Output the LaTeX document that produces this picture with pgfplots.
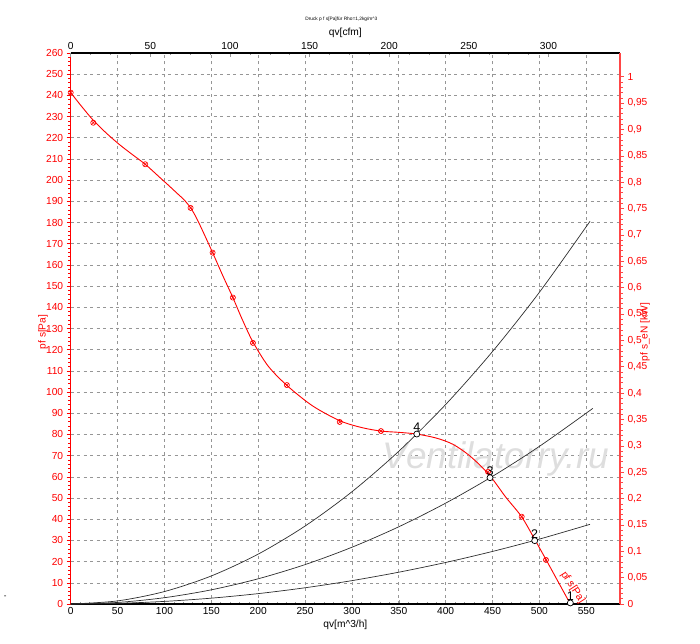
\documentclass[border=0pt]{standalone}
\usepackage{fontspec}
\setmainfont{Liberation Sans}
\usepackage{pgfplots}
\pgfplotsset{compat=1.18}
\definecolor{myred}{RGB}{255,0,0}
\definecolor{axred}{RGB}{255,70,70}
\definecolor{gridgray}{RGB}{150,150,150}
\definecolor{curvegray}{RGB}{45,45,45}
\definecolor{wm}{RGB}{222,222,222}
\begin{document}
\begin{tikzpicture}
\useasboundingbox (-70.7pt,-39pt) rectangle (629.3pt,604pt);
\begin{axis}[
  scale only axis, width=549.3pt, height=551pt,
  xmin=0, xmax=586, ymin=0, ymax=260,
  clip=false,
  axis x line*=bottom, axis y line*=left,
  x axis line style={black, line width=1.3pt},
  y axis line style={myred, line width=1.6pt},
  xtick={0,50,...,550}, ytick={0,10,...,260},
  minor x tick num=4, minor y tick num=4,
  xtick align=inside, ytick align=outside,
  xtick style={gridgray, line width=0.5pt},
  ytick style={myred, line width=0.6pt},
  major tick length=4pt, minor tick length=2.5pt,
  grid=major,
  grid style={gridgray, dash pattern=on 3pt off 3.5pt, line width=0.6pt},
  tick label style={font=\fontsize{10.2}{12}\selectfont},
  yticklabel style={myred},
  /pgf/number format/assume math mode=true,
  xlabel={qv[m\textasciicircum 3/h]},
  xlabel style={at={(axis description cs:0.5,0)}, anchor=center, yshift=-21pt, font=\fontsize{10.2}{12}\selectfont},
  ylabel={pf s[Pa]},
  ylabel style={at={(axis description cs:0,0.5)}, anchor=center, yshift=27.7pt, xshift=-3.5pt, myred, font=\fontsize{10.2}{12}\selectfont},
]
\node[wm, font=\fontsize{37}{37}\selectfont\itshape] at (axis cs:453.5,68.4) {Ventilatorry.ru};
% system curves
\addplot[curvegray, line width=0.7pt, smooth] coordinates {
(0,0)(50,1.47)(100,5.88)(150,13.24)(200,23.54)(250,36.78)(300,52.96)(350,72.08)(400,94.14)(450,119.15)(500,147.1)(554,180.6)};
\addplot[curvegray, line width=0.7pt, smooth] coordinates {
(0,0)(50,0.74)(100,2.98)(150,6.69)(200,11.9)(250,18.59)(300,26.78)(350,36.44)(400,47.6)(450,60.24)(500,74.38)(557,92.3)};
\addplot[curvegray, line width=0.7pt, smooth] coordinates {
(0,0)(50,0.31)(100,1.23)(150,2.76)(200,4.9)(250,7.66)(300,11.03)(350,15.01)(400,19.6)(450,24.81)(500,30.63)(554,37.6)};
% fan curve
\addplot[myred, line width=0.9pt, smooth, tension=0.5] coordinates {
(0,241.3)(12,234.6)(24,228.3)(38,222.2)(52,216.8)(66,212)(79.5,207.5)(95,201.3)(105,197.3)(113,194)(121,190.7)(128,186.9)(134,182.3)(140,176.8)(145,172)(151.4,165.8)(162.7,154.5)(173,144.6)(182.3,135)(194,124)(210.6,112.3)(231,103)(258,93.5)(287,86.5)(310,83.3)(331,81.6)(350,81)(369,80.2)(390,78.3)(408,75.3)(426,69.8)(446,61.2)(464,50.5)(481,41.2)(495,30.5)(507,21)(520,10.5)(533,0)};
\addplot[myred, only marks, mark=otimes, mark size=2.6pt, mark options={line width=0.6pt}] coordinates {
(0,241.3)(24.1,227.1)(79.5,207.5)(127.9,186.9)(151.4,165.8)(173,144.6)(194.4,123.2)(230.6,103.3)(287,85.9)(331,81.6)(445.2,62.4)(481.1,41.2)(507,20.8)};
% operating points
\addplot[only marks, mark=*, mark size=3pt, mark options={fill=white, draw=black, line width=0.7pt},
  nodes near coords, point meta=explicit symbolic,
  nodes near coords style={font=\fontsize{12.5}{12.5}\selectfont, anchor=south, inner sep=0pt, yshift=2pt, black}]
  table[meta=label] {
x y label
369.2 80.2 4
447.3 59.6 3
495 29.9 2
533 0.5 1
};
\node[myred, rotate=-57, font=\fontsize{10.5}{10.5}\selectfont] at (axis cs:535.6,7.8) {pf s[Pa]};
\node[black, font=\fontsize{8}{8}\selectfont] at (axis cs:-70,3.3) {-};
\node[font=\fontsize{4.8}{5}\selectfont] at (axis description cs:0.5,1) [xshift=-4pt, yshift=34pt] {Druck p f s[Pa]für Rho=1,2kg/m\textasciicircum 3};
\end{axis}
\begin{axis}[
  scale only axis, width=549.3pt, height=551pt,
  xmin=0, xmax=344.9, ymin=0, ymax=1.045,
  axis x line*=top, axis y line*=right,
  x axis line style={black, line width=1.3pt},
  y axis line style={axred, line width=1.6pt},
  xtick={0,50,100,150,200,250,300},
  ytick={0,0.05,0.1,0.15,0.2,0.25,0.3,0.35,0.4,0.45,0.5,0.55,0.6,0.65,0.7,0.75,0.8,0.85,0.9,0.95,1},
  minor x tick num=3, minor y tick num=4,
  xtick align=inside, ytick align=outside,
  xtick style={gridgray, line width=0.5pt},
  ytick style={axred, line width=0.6pt},
  major tick length=4pt, minor tick length=2.5pt,
  scaled y ticks=false,
  yticklabel style={myred, /pgf/number format/.cd, fixed, precision=2, use comma},
  tick label style={font=\fontsize{10.2}{12}\selectfont},
  /pgf/number format/assume math mode=true,
  xlabel={qv[cfm]},
  xlabel style={at={(axis description cs:0.5,1)}, anchor=center, yshift=20pt, font=\fontsize{10.2}{12}\selectfont},
  ylabel={pf s\_eN [kW]},
  ylabel style={at={(axis description cs:1,0.5)}, anchor=center, yshift=-25pt, xshift=-3.5pt, myred, font=\fontsize{10.2}{12}\selectfont},
]
\end{axis}
\end{tikzpicture}
\end{document}
